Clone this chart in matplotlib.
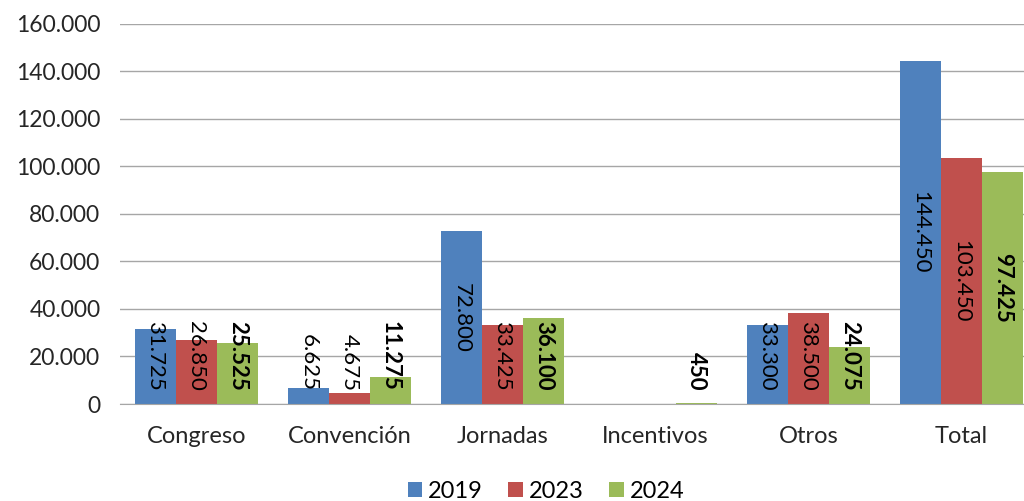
import numpy as np
import matplotlib.pyplot as plt

plt.rcParams['font.family'] = ['Lato', 'DejaVu Sans']

categorias = ["Congreso", "Convención", "Jornadas", "Incentivos", "Otros", "Total"]
v2019 = [31725, 6625, 72800, 0, 33300, 144450]
v2023 = [26850, 4675, 33425, 0, 38500, 103450]
v2024 = [25525, 11275, 36100, 450, 24075, 97425]
yticks = [0, 20000, 40000, 60000, 80000, 100000, 120000, 140000, 160000]
ylabels = ["0", "20.000", "40.000", "60.000", "80.000", "100.000", "120.000", "140.000", "160.000"]

series = [("2019", v2019, "#4F81BD", "normal"),
          ("2023", v2023, "#C0504D", "normal"),
          ("2024", v2024, "#9BBB59", "bold")]


def fmt(v):
    return f"{v:,}".replace(",", ".")


fig = plt.figure(figsize=(10.24, 5.01), dpi=100)
ax = fig.add_axes([0.117, 0.1936, 0.8965, 0.759])

x = np.arange(len(categorias))
w = 0.268
for i, (nombre, vals, col, peso) in enumerate(series):
    pos = x + (i - 1) * w
    ax.bar(pos, vals, w, color=col, label=nombre, zorder=2)
    for p, v in zip(pos, vals):
        if v == 0:
            continue
        if v / 2 < 22000:
            ax.text(p, 5500, fmt(v), rotation=270, ha='center', va='bottom',
                    fontsize=16, fontweight=peso, color='black', zorder=3)
        else:
            ax.text(p, v / 2, fmt(v), rotation=270, ha='center', va='center',
                    fontsize=16, fontweight=peso, color='black', zorder=3)

ax.set_xlim(-0.5, len(categorias) - 0.5)
ax.set_ylim(0, 160000)
ax.set_yticks(yticks)
ax.set_yticklabels(ylabels, fontsize=16.5, color='#262626')
ax.set_xticks(x)
ax.set_xticklabels(categorias, fontsize=17, color='#262626')
ax.tick_params(length=0)
ax.tick_params(axis='x', pad=16)
ax.tick_params(axis='y', pad=14)
ax.yaxis.grid(True, color='#A6A6A6', linewidth=1, zorder=0)
ax.set_axisbelow(True)
for s in ['top', 'right', 'left']:
    ax.spines[s].set_visible(False)
ax.spines['bottom'].set_color('#A6A6A6')

ax.legend(loc='lower center', bbox_to_anchor=(0.464, -0.283), ncol=3, frameon=False,
          fontsize=17, handlelength=0.6, handleheight=0.6, handletextpad=0.25,
          columnspacing=1.1, borderaxespad=0)

fig.savefig("out.png", dpi=100)
